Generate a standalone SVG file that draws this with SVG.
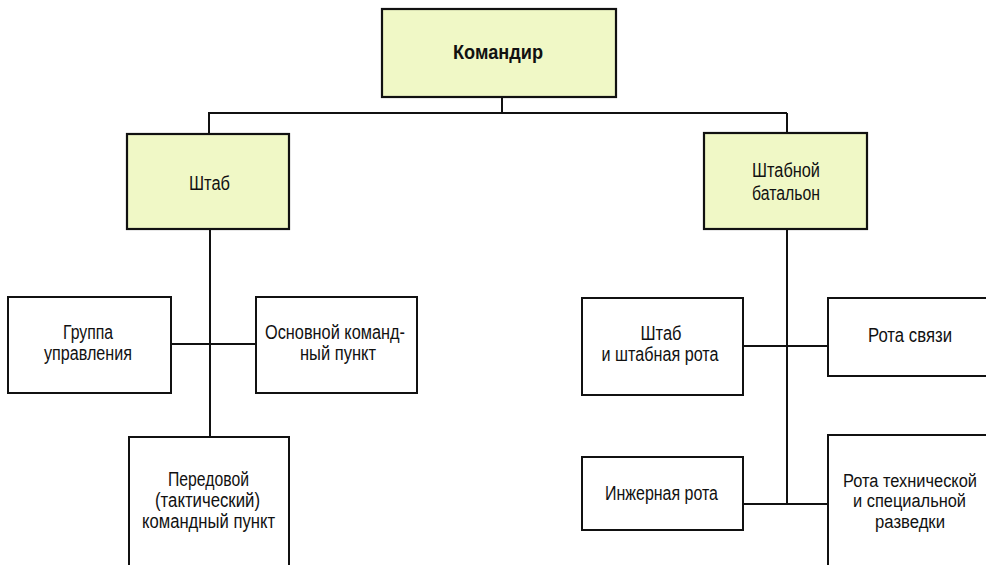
<svg xmlns="http://www.w3.org/2000/svg" width="986" height="565" viewBox="0 0 986 565">
<style>
.box{fill:#fff;stroke:#111;stroke-width:2}
.hl{fill:#f0f8c6;stroke:#111;stroke-width:2.2}
.open{fill:none;stroke:#111;stroke-width:2}
.t{font-family:"Liberation Sans",Arial,sans-serif;font-size:20px;fill:#111;text-anchor:middle}
.s{font-size:18px}
.b{font-weight:bold;font-size:21px}
.c{stroke:#111;stroke-width:2;fill:none}
</style>
<rect width="986" height="565" fill="#fff"/>
<g id="connectors">
<path class="c" d="M502 97V113M208 113H787M209 113V134M787 113V133"/>
<path class="c" d="M210 229V437M171 344H256"/>
<path class="c" d="M787 229V504M743 346H828M743 504H828"/>
</g>
<g id="komandir">
<rect class="hl" x="382" y="9" width="234" height="88"/>
<text class="t b" x="498" y="59" textLength="90" lengthAdjust="spacingAndGlyphs">Командир</text>
</g>
<g id="shtab">
<rect class="hl" x="127" y="134" width="162" height="95"/>
<text class="t" x="209.5" y="190" font-size="21" textLength="41" lengthAdjust="spacingAndGlyphs">Штаб</text>
</g>
<g id="shtab-bat">
<rect class="hl" x="704" y="133" width="163" height="96"/>
<text class="t" x="786" y="177" textLength="68" lengthAdjust="spacingAndGlyphs">Штабной</text>
<text class="t" x="786" y="200" textLength="68" lengthAdjust="spacingAndGlyphs">батальон</text>
</g>
<g id="gruppa">
<rect class="box" x="8" y="297" width="163" height="96"/>
<text class="t" x="88" y="339" textLength="50" lengthAdjust="spacingAndGlyphs">Группа</text>
<text class="t" x="88" y="360" textLength="88" lengthAdjust="spacingAndGlyphs">управления</text>
</g>
<g id="osnovnoy">
<rect class="box" x="256" y="297" width="161" height="96"/>
<text class="t" x="335" y="339" textLength="140" lengthAdjust="spacingAndGlyphs">Основной команд-</text>
<text class="t" x="338" y="360" textLength="76" lengthAdjust="spacingAndGlyphs">ный пункт</text>
</g>
<g id="peredovoy">
<rect class="box" x="129" y="437" width="160" height="140"/>
<text class="t" x="208.5" y="486" textLength="81" lengthAdjust="spacingAndGlyphs">Передовой</text>
<text class="t" x="207.5" y="507" textLength="105" lengthAdjust="spacingAndGlyphs">(тактический)</text>
<text class="t" x="208.5" y="528" textLength="133" lengthAdjust="spacingAndGlyphs">командный пункт</text>
</g>
<g id="shtab-rota">
<rect class="box" x="582" y="298" width="161" height="97"/>
<text class="t" x="661" y="340" textLength="41" lengthAdjust="spacingAndGlyphs">Штаб</text>
<text class="t" x="660" y="361" textLength="117" lengthAdjust="spacingAndGlyphs">и штабная рота</text>
</g>
<g id="rota-svyazi">
<path class="open" d="M986 298H828V376H986"/>
<text class="t" x="910" y="342" textLength="84" lengthAdjust="spacingAndGlyphs">Рота связи</text>
</g>
<g id="inzh-rota">
<rect class="box" x="582" y="457" width="161" height="73"/>
<text class="t" x="661.5" y="500" textLength="113" lengthAdjust="spacingAndGlyphs">Инжерная рота</text>
</g>
<g id="rota-tech">
<path class="open" d="M986 435H828V565"/>
<text class="t s" x="910" y="487" font-size="17" textLength="134" lengthAdjust="spacingAndGlyphs">Рота технической</text>
<text class="t s" x="909.5" y="507" textLength="113" lengthAdjust="spacingAndGlyphs">и специальной</text>
<text class="t s" x="910" y="528" textLength="70" lengthAdjust="spacingAndGlyphs">разведки</text>
</g>
</svg>
